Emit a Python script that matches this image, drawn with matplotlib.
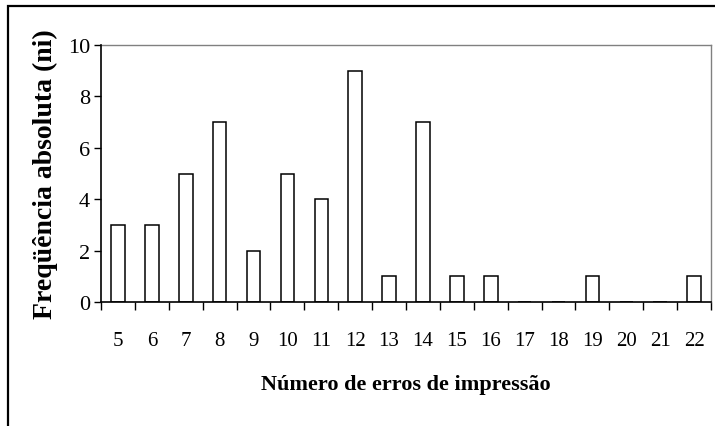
import matplotlib.pyplot as plt
import numpy as np
from matplotlib.patches import Rectangle

plt.rcParams['font.family'] = ['Liberation Serif', 'DejaVu Serif']

erros = [5, 6, 7, 8, 9, 10, 11, 12, 13, 14, 15, 16, 17, 18, 19, 20, 21, 22]
freq = [3, 3, 5, 7, 2, 5, 4, 9, 1, 7, 1, 1, 0, 0, 1, 0, 0, 1]
yticks = [0, 2, 4, 6, 8, 10]

fig = plt.figure(figsize=(7.15, 4.27), dpi=100)
# outer chart border (only left and top are visible in the crop)
fig.patches.append(Rectangle((8 / 715, -0.1), 1.2, 1 - 7 / 427 + 0.1,
                             transform=fig.transFigure, fill=False,
                             edgecolor='black', linewidth=1.6))

ax = fig.add_axes([101 / 715, 1 - 303 / 427, 610 / 715, (303 - 46) / 427])
x = np.arange(len(erros))
ax.bar(x, freq, width=0.4, color='white', edgecolor='black', linewidth=1.1, zorder=2)

ax.set_xlim(-0.5, len(erros) - 0.5)
ax.set_ylim(0, 10)
ax.set_yticks(yticks)
ax.set_yticklabels([str(v) for v in yticks], fontsize=16)

ax.set_xticks(np.arange(len(erros) + 1) - 0.5)
ax.set_xticklabels([])
ax.set_xticks(x, minor=True)
ax.set_xticklabels([str(e) for e in erros], minor=True, fontsize=15)
ax.tick_params(axis='x', which='major', length=6, width=1, direction='out')
ax.tick_params(axis='x', which='minor', length=0, pad=21)
ax.tick_params(axis='y', length=5, width=1, pad=3)

for s in ['top', 'right']:
    ax.spines[s].set_color('#808080')
    ax.spines[s].set_linewidth(1)
for s in ['left', 'bottom']:
    ax.spines[s].set_color('black')
    ax.spines[s].set_linewidth(1.2)
    ax.spines[s].set_zorder(3)

ax.set_xlabel('Número de erros de impressão', fontsize=16, fontweight='bold', labelpad=17)
ax.set_ylabel('Freqüência absoluta (ni)', fontsize=20, fontweight='bold', labelpad=7)

fig.savefig('out.png', dpi=100)
